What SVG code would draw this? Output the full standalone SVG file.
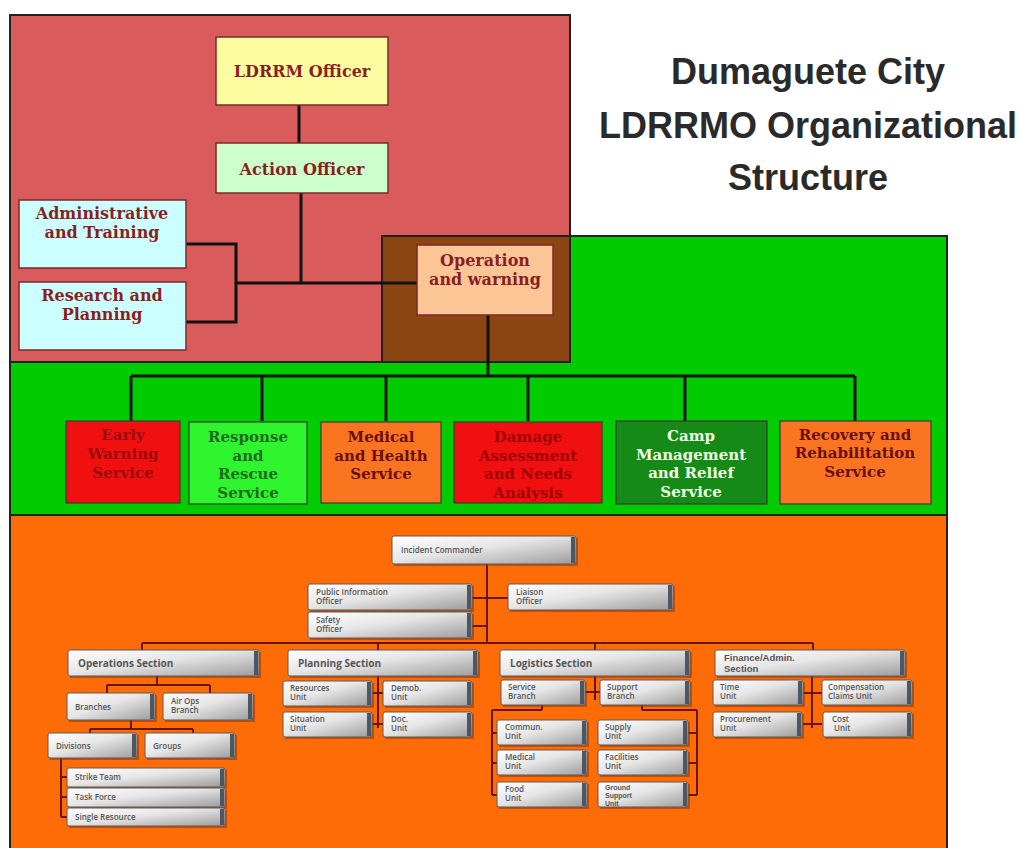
<svg xmlns="http://www.w3.org/2000/svg" width="1028" height="848" viewBox="0 0 1028 848">
<defs>
<linearGradient id="gb" x1="0" y1="0" x2="1" y2="1">
<stop offset="0" stop-color="#ffffff"/>
<stop offset="0.45" stop-color="#e6e6e6"/>
<stop offset="1" stop-color="#9c9c9c"/>
</linearGradient>
</defs>
<style>
.panel{stroke:#222;stroke-width:2}
.tb{stroke:#7a2a2a;stroke-width:1.5}
.tt{font-family:"DejaVu Serif",serif;font-weight:bold;font-size:16px;fill:#8a1f1f;text-anchor:middle}
.sb{stroke:#3a3a3a;stroke-width:1.2}
.st{font-family:"DejaVu Serif",serif;font-weight:bold;font-size:15px;text-anchor:middle}
.ln{stroke:#111;stroke-width:3;fill:none}
.ic{stroke:#6a1500;stroke-width:2;fill:none}
.sh{fill:#9a3300;opacity:0.55}
.ib{fill:url(#gb);stroke:#5a5a5a;stroke-width:1}
.ie{fill:#4f5663}
.it{font-family:"Open Sans",sans-serif;font-weight:600;font-size:8px;fill:#555}
.it7{font-family:"Liberation Sans",Arial,sans-serif;font-weight:bold;font-size:7px;fill:#555}
.is{font-family:"Open Sans",sans-serif;font-weight:700;font-size:10px;fill:#555}
.is9{font-family:"Liberation Sans",Arial,sans-serif;font-weight:bold;font-size:9.5px;fill:#555}
.title{font-family:"Liberation Sans",Arial,sans-serif;font-weight:bold;font-size:36px;fill:#2a2a2a;text-anchor:middle}
</style>
<rect width="1028" height="848" fill="#ffffff"/>

<g id="panels">
<rect class="panel" x="10" y="236" width="937" height="279" fill="#00cc00"/>
<rect class="panel" x="10" y="15" width="560" height="347" fill="#d95b5b"/>
<rect class="panel" x="382" y="236" width="188" height="126" fill="#8b4513"/>
<rect class="panel" x="10" y="515" width="937" height="345" fill="#fd6c06"/>
</g>

<g id="title">
<text class="title" x="808" y="84">Dumaguete City</text>
<text class="title" x="808" y="138">LDRRMO Organizational</text>
<text class="title" x="808" y="190">Structure</text>
</g>

<g id="connectors">
<path class="ln" d="M299 105V143M301 193V283M236 283H417M186 244H236V322H186M488 315V376M131 376H855M131 376V421M262 376V421M386 376V421M528 376V421M685 376V421M855 376V421"/>
<path class="ic" d="M487 564V643M472 598H508M472 626H487M142 643H813M142 643V650M378 643V650M595 643V650M813 643V650"/>
<path class="ic" d="M157 676V685M107 685H210M107 685V693M210 685V693M131 720V729M90 729H193M90 729V733M193 729V733M61 758V817M61 777H67M61 797H67M61 817H67"/>
<path class="ic" d="M378 676V728M372 693H383M372 724H383"/>
<path class="ic" d="M595 676V700M585 692H600M542 705V710M492 710H542M492 710V795M492 733H497M492 763H497M492 795H497M642 705V710M642 710H697M697 710V795M688 733H697M688 763H697M688 795H697"/>
<path class="ic" d="M812 676V728M803 693H822M803 724H822"/>
</g>

<g id="ldrrm-officer"><rect class="tb" x="216" y="37" width="172" height="68" fill="#fdfca0"/><text class="tt" x="302" y="77">LDRRM Officer</text></g>
<g id="action-officer"><rect class="tb" x="216" y="143" width="172" height="50" fill="#ccffcc"/><text class="tt" x="302" y="175">Action Officer</text></g>
<g id="admin-training"><rect class="tb" x="19" y="200" width="167" height="68" fill="#ccffff"/><text class="tt" x="102" y="219">Administrative</text><text class="tt" x="102" y="238">and Training</text></g>
<g id="research-planning"><rect class="tb" x="19" y="282" width="167" height="68" fill="#ccffff"/><text class="tt" x="102" y="301">Research and</text><text class="tt" x="102" y="320">Planning</text></g>
<g id="operation-warning"><rect class="tb" x="417" y="245" width="136" height="70" fill="#fbc596"/><text class="tt" x="485" y="266">Operation</text><text class="tt" x="485" y="285">and warning</text></g>

<g id="early-warning"><rect class="sb" x="66" y="421" width="114" height="82" fill="#f01010"/><text class="st" fill="#9c0b0b" x="123" y="440">Early</text><text class="st" fill="#9c0b0b" x="123" y="459">Warning</text><text class="st" fill="#9c0b0b" x="123" y="478">Service</text></g>
<g id="response-rescue"><rect class="sb" x="189" y="422" width="118" height="82" fill="#2ef52e"/><text class="st" fill="#1e6b1e" x="248" y="442">Response</text><text class="st" fill="#1e6b1e" x="248" y="461">and</text><text class="st" fill="#1e6b1e" x="248" y="479">Rescue</text><text class="st" fill="#1e6b1e" x="248" y="498">Service</text></g>
<g id="medical-health"><rect class="sb" x="321" y="422" width="120" height="81" fill="#fb7520"/><text class="st" fill="#6a0f0f" x="381" y="442">Medical</text><text class="st" fill="#6a0f0f" x="381" y="461">and Health</text><text class="st" fill="#6a0f0f" x="381" y="479">Service</text></g>
<g id="damage-assessment"><rect class="sb" x="454" y="422" width="148" height="81" fill="#f01010"/><text class="st" fill="#a00000" x="528" y="442">Damage</text><text class="st" fill="#a00000" x="528" y="461">Assessment</text><text class="st" fill="#a00000" x="528" y="479">and Needs</text><text class="st" fill="#a00000" x="528" y="498">Analysis</text></g>
<g id="camp-management"><rect class="sb" x="616" y="421" width="151" height="83" fill="#168a16"/><text class="st" fill="#f0ffe6" x="691" y="441">Camp</text><text class="st" fill="#f0ffe6" x="691" y="460">Management</text><text class="st" fill="#f0ffe6" x="691" y="478">and Relief</text><text class="st" fill="#f0ffe6" x="691" y="497">Service</text></g>
<g id="recovery-rehab"><rect class="sb" x="780" y="421" width="151" height="83" fill="#fb7520"/><text class="st" fill="#6a0f0f" x="855" y="440">Recovery and</text><text class="st" fill="#6a0f0f" x="855" y="458">Rehabilitation</text><text class="st" fill="#6a0f0f" x="855" y="477">Service</text></g>

<g id="incident-commander"><rect class="sh" x="394" y="538" width="184" height="28"/><rect class="ib" x="392" y="536" width="184" height="28" rx="2"/><rect class="ie" x="571" y="537" width="4" height="26"/><text class="it" x="401" y="553">Incident Commander</text></g>
<g id="pio"><rect class="sh" x="310" y="586" width="164" height="26"/><rect class="ib" x="308" y="584" width="164" height="26" rx="2"/><rect class="ie" x="467" y="585" width="4" height="24"/><text class="it" x="316" y="595">Public Information</text><text class="it" x="316" y="604">Officer</text></g>
<g id="safety"><rect class="sh" x="310" y="614" width="164" height="26"/><rect class="ib" x="308" y="612" width="164" height="26" rx="2"/><rect class="ie" x="467" y="613" width="4" height="24"/><text class="it" x="316" y="623">Safety</text><text class="it" x="316" y="632">Officer</text></g>
<g id="liaison"><rect class="sh" x="510" y="586" width="165" height="26"/><rect class="ib" x="508" y="584" width="165" height="26" rx="2"/><rect class="ie" x="668" y="585" width="4" height="24"/><text class="it" x="516" y="595">Liaison</text><text class="it" x="516" y="604">Officer</text></g>

<g id="operations-section"><rect class="sh" x="70" y="652" width="191" height="26"/><rect class="ib" x="68" y="650" width="191" height="26" rx="2"/><rect class="ie" x="254" y="651" width="4" height="24"/><text class="is" x="78" y="667">Operations Section</text></g>
<g id="branches"><rect class="sh" x="69" y="695" width="88" height="27"/><rect class="ib" x="67" y="693" width="88" height="27" rx="2"/><rect class="ie" x="150" y="694" width="4" height="25"/><text class="it" x="75" y="710">Branches</text></g>
<g id="air-ops"><rect class="sh" x="165" y="695" width="90" height="27"/><rect class="ib" x="163" y="693" width="90" height="27" rx="2"/><rect class="ie" x="248" y="694" width="4" height="25"/><text class="it" x="171" y="704">Air Ops</text><text class="it" x="171" y="713">Branch</text></g>
<g id="divisions"><rect class="sh" x="50" y="735" width="89" height="25"/><rect class="ib" x="48" y="733" width="89" height="25" rx="2"/><rect class="ie" x="132" y="734" width="4" height="23"/><text class="it" x="56" y="749">Divisions</text></g>
<g id="groups"><rect class="sh" x="147" y="735" width="90" height="25"/><rect class="ib" x="145" y="733" width="90" height="25" rx="2"/><rect class="ie" x="230" y="734" width="4" height="23"/><text class="it" x="153" y="749">Groups</text></g>
<g id="strike-team"><rect class="sh" x="69" y="770" width="158" height="19"/><rect class="ib" x="67" y="768" width="158" height="19" rx="2"/><rect class="ie" x="220" y="769" width="4" height="17"/><text class="it" x="75" y="780">Strike Team</text></g>
<g id="task-force"><rect class="sh" x="69" y="790" width="158" height="19"/><rect class="ib" x="67" y="788" width="158" height="19" rx="2"/><rect class="ie" x="220" y="789" width="4" height="17"/><text class="it" x="75" y="800">Task Force</text></g>
<g id="single-resource"><rect class="sh" x="69" y="810" width="158" height="18"/><rect class="ib" x="67" y="808" width="158" height="18" rx="2"/><rect class="ie" x="220" y="809" width="4" height="16"/><text class="it" x="75" y="820">Single Resource</text></g>

<g id="planning-section"><rect class="sh" x="290" y="652" width="190" height="26"/><rect class="ib" x="288" y="650" width="190" height="26" rx="2"/><rect class="ie" x="473" y="651" width="4" height="24"/><text class="is" x="298" y="667">Planning Section</text></g>
<g id="resources-unit"><rect class="sh" x="285" y="683" width="89" height="25"/><rect class="ib" x="283" y="681" width="89" height="25" rx="2"/><rect class="ie" x="367" y="682" width="4" height="23"/><text class="it" x="290" y="691">Resources</text><text class="it" x="290" y="700">Unit</text></g>
<g id="demob-unit"><rect class="sh" x="385" y="683" width="89" height="25"/><rect class="ib" x="383" y="681" width="89" height="25" rx="2"/><rect class="ie" x="467" y="682" width="4" height="23"/><text class="it" x="391" y="691">Demob.</text><text class="it" x="391" y="700">Unit</text></g>
<g id="situation-unit"><rect class="sh" x="285" y="714" width="89" height="25"/><rect class="ib" x="283" y="712" width="89" height="25" rx="2"/><rect class="ie" x="367" y="713" width="4" height="23"/><text class="it" x="290" y="722">Situation</text><text class="it" x="290" y="731">Unit</text></g>
<g id="doc-unit"><rect class="sh" x="385" y="714" width="89" height="25"/><rect class="ib" x="383" y="712" width="89" height="25" rx="2"/><rect class="ie" x="467" y="713" width="4" height="23"/><text class="it" x="391" y="722">Doc.</text><text class="it" x="391" y="731">Unit</text></g>

<g id="logistics-section"><rect class="sh" x="502" y="652" width="190" height="26"/><rect class="ib" x="500" y="650" width="190" height="26" rx="2"/><rect class="ie" x="685" y="651" width="4" height="24"/><text class="is" x="510" y="667">Logistics Section</text></g>
<g id="service-branch"><rect class="sh" x="503" y="682" width="84" height="25"/><rect class="ib" x="501" y="680" width="84" height="25" rx="2"/><rect class="ie" x="580" y="681" width="4" height="23"/><text class="it" x="508" y="690">Service</text><text class="it" x="508" y="699">Branch</text></g>
<g id="support-branch"><rect class="sh" x="602" y="682" width="90" height="25"/><rect class="ib" x="600" y="680" width="90" height="25" rx="2"/><rect class="ie" x="685" y="681" width="4" height="23"/><text class="it" x="607" y="690">Support</text><text class="it" x="607" y="699">Branch</text></g>
<g id="commun-unit"><rect class="sh" x="499" y="722" width="90" height="25"/><rect class="ib" x="497" y="720" width="90" height="25" rx="2"/><rect class="ie" x="582" y="721" width="4" height="23"/><text class="it" x="505" y="730">Commun.</text><text class="it" x="505" y="739">Unit</text></g>
<g id="medical-unit"><rect class="sh" x="499" y="752" width="90" height="25"/><rect class="ib" x="497" y="750" width="90" height="25" rx="2"/><rect class="ie" x="582" y="751" width="4" height="23"/><text class="it" x="505" y="760">Medical</text><text class="it" x="505" y="769">Unit</text></g>
<g id="food-unit"><rect class="sh" x="499" y="784" width="90" height="25"/><rect class="ib" x="497" y="782" width="90" height="25" rx="2"/><rect class="ie" x="582" y="783" width="4" height="23"/><text class="it" x="505" y="792">Food</text><text class="it" x="505" y="801">Unit</text></g>
<g id="supply-unit"><rect class="sh" x="600" y="722" width="90" height="25"/><rect class="ib" x="598" y="720" width="90" height="25" rx="2"/><rect class="ie" x="683" y="721" width="4" height="23"/><text class="it" x="605" y="730">Supply</text><text class="it" x="605" y="739">Unit</text></g>
<g id="facilities-unit"><rect class="sh" x="600" y="752" width="90" height="25"/><rect class="ib" x="598" y="750" width="90" height="25" rx="2"/><rect class="ie" x="683" y="751" width="4" height="23"/><text class="it" x="605" y="760">Facilities</text><text class="it" x="605" y="769">Unit</text></g>
<g id="ground-support-unit"><rect class="sh" x="600" y="784" width="90" height="25"/><rect class="ib" x="598" y="782" width="90" height="25" rx="2"/><rect class="ie" x="683" y="783" width="4" height="23"/><text class="it7" x="605" y="789.5">Ground</text><text class="it7" x="605" y="797.8">Support</text><text class="it7" x="605" y="806.1">Unit</text></g>

<g id="finance-section"><rect class="sh" x="717" y="652" width="190" height="26"/><rect class="ib" x="715" y="650" width="190" height="26" rx="2"/><rect class="ie" x="900" y="651" width="4" height="24"/><text class="is9" x="724" y="661">Finance/Admin.</text><text class="is9" x="724" y="672">Section</text></g>
<g id="time-unit"><rect class="sh" x="715" y="682" width="90" height="25"/><rect class="ib" x="713" y="680" width="90" height="25" rx="2"/><rect class="ie" x="798" y="681" width="4" height="23"/><text class="it" x="720" y="690">Time</text><text class="it" x="720" y="699">Unit</text></g>
<g id="compensation-unit"><rect class="sh" x="824" y="682" width="90" height="25"/><rect class="ib" x="822" y="680" width="90" height="25" rx="2"/><rect class="ie" x="907" y="681" width="4" height="23"/><text class="it" x="828" y="690">Compensation</text><text class="it" x="828" y="699">Claims Unit</text></g>
<g id="procurement-unit"><rect class="sh" x="715" y="714" width="89" height="25"/><rect class="ib" x="713" y="712" width="89" height="25" rx="2"/><rect class="ie" x="797" y="713" width="4" height="23"/><text class="it" x="720" y="722">Procurement</text><text class="it" x="720" y="731">Unit</text></g>
<g id="cost-unit"><rect class="sh" x="825" y="714" width="89" height="25"/><rect class="ib" x="823" y="712" width="89" height="25" rx="2"/><rect class="ie" x="907" y="713" width="4" height="23"/><text class="it" x="832" y="722">Cost</text><text class="it" x="834" y="731">Unit</text></g>
</svg>
